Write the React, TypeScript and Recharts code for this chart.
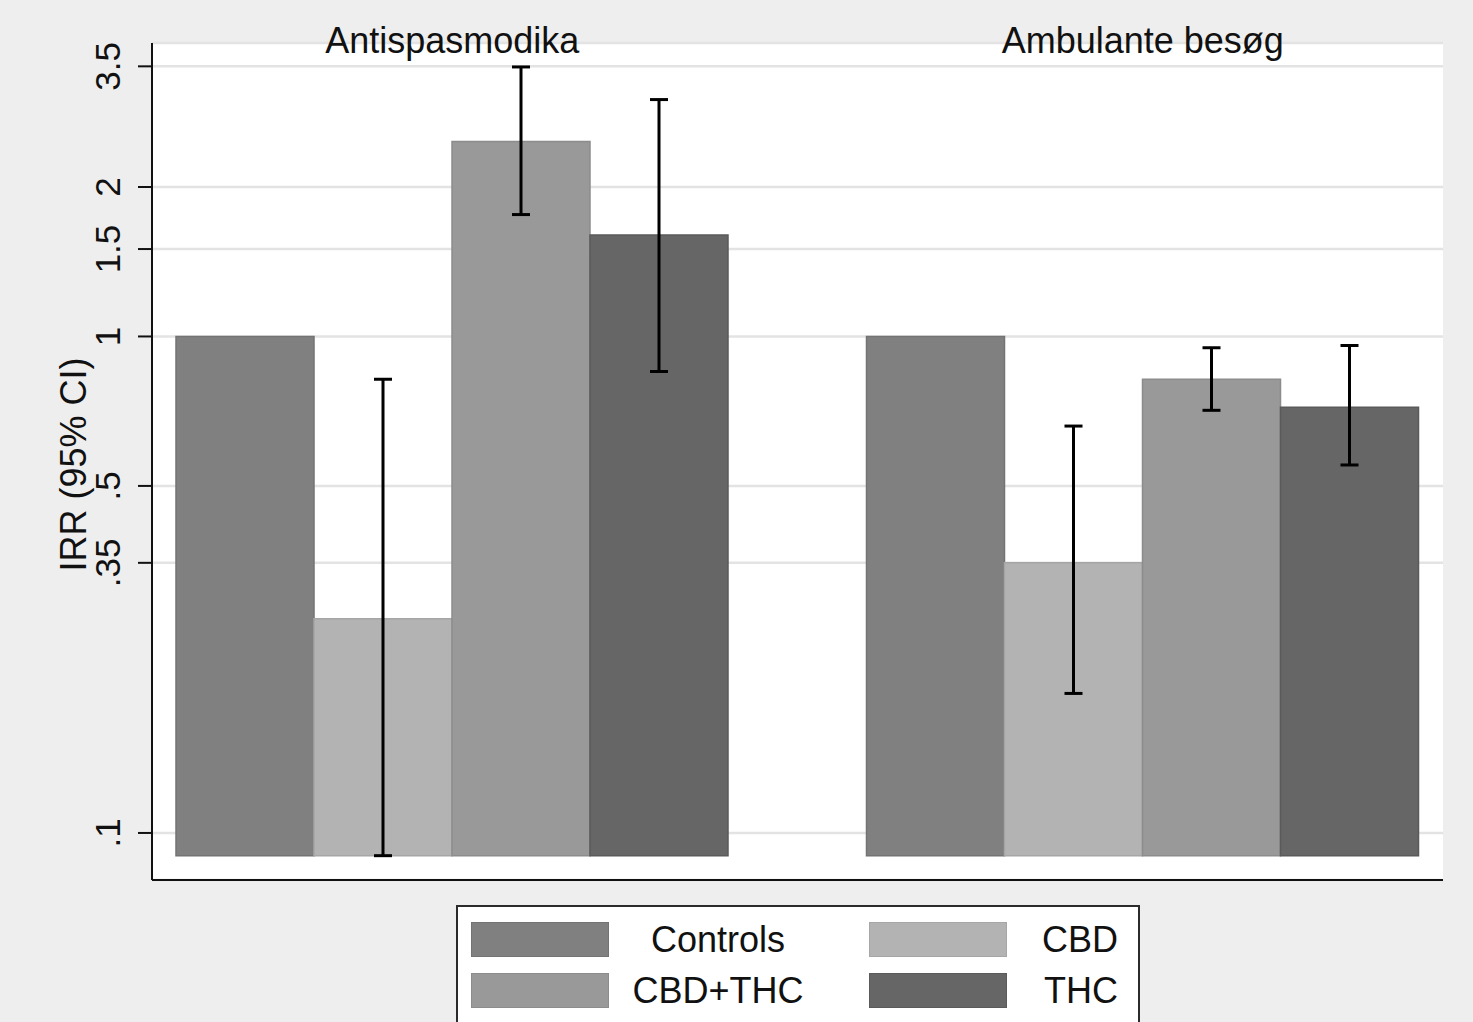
import { Bar, BarChart, CartesianGrid, ErrorBar, Legend, XAxis, YAxis } from 'recharts';

const outcomes = ['Antispasmodika', 'Ambulante besøg'];

// IRR per outcome (same order as outcomes)
const controlsIrr = [1, 1];
const cbdIrr = [0.27, 0.35];
const cbdThcIrr = [2.47, 0.82];
const thcIrr = [1.6, 0.72];

// 95% CI
const cbdLow = [0.09, 0.191];
const cbdHigh = [0.82, 0.66];
const cbdThcLow = [1.76, 0.71];
const cbdThcHigh = [3.49, 0.949];
const thcLow = [0.85, 0.551];
const thcHigh = [3.0, 0.959];

const yTicks = [0.1, 0.35, 0.5, 1, 1.5, 2, 3.5];
const yDomain = [0.0804, 3.9];
const barBase = 0.09;

const FONT = '"Liberation Sans", Arial, sans-serif';
const INK = '#111111';

const series = [
  { key: 'controls', name: 'Controls', irr: controlsIrr, low: null, high: null, fill: '#808080', edge: '#737373' },
  { key: 'cbd', name: 'CBD', irr: cbdIrr, low: cbdLow, high: cbdHigh, fill: '#b3b3b3', edge: '#a6a6a6' },
  { key: 'cbdThc', name: 'CBD+THC', irr: cbdThcIrr, low: cbdThcLow, high: cbdThcHigh, fill: '#999999', edge: '#8c8c8c' },
  { key: 'thc', name: 'THC', irr: thcIrr, low: thcLow, high: thcHigh, fill: '#666666', edge: '#5a5a5a' },
];

const data = outcomes.map((outcome, i) => {
  const row: Record<string, any> = { outcome };
  series.forEach((s) => {
    row[s.key] = s.irr[i];
    if (s.low && s.high) row[s.key + 'Err'] = [s.irr[i] - s.low[i], s.high[i] - s.irr[i]];
  });
  return row;
});

const fmtTick = (v: number) => (v < 1 ? String(v).replace(/^0/, '') : String(v));

function YTick({ x, y, payload }: any) {
  return (
    <text
      x={x}
      y={y}
      transform={`rotate(-90, ${x}, ${y})`}
      textAnchor="middle"
      fontSize={35}
      fontFamily={FONT}
      fill={INK}
    >
      {fmtTick(payload.value)}
    </text>
  );
}

function TopTick({ x, y, payload }: any) {
  return (
    <text x={x} y={y} dy={10} textAnchor="middle" fontSize={36} fontFamily={FONT} fill={INK}>
      {payload.value}
    </text>
  );
}

function YLabel({ viewBox }: any) {
  const cx = viewBox.x + 86;
  const cy = viewBox.y + viewBox.height / 2 + 3;
  return (
    <text
      x={cx}
      y={cy}
      transform={`rotate(-90, ${cx}, ${cy})`}
      textAnchor="middle"
      fontSize={36}
      fontFamily={FONT}
      fill={INK}
    >
      IRR (95% CI)
    </text>
  );
}

// 2x2 legend box, keeps the bar order (recharts sorts the payload by name)
function LegendBox({ payload }: any) {
  const items = series.map((s) => {
    const p = (payload ?? []).find((e: any) => e.value === s.name);
    return { name: s.name, fill: p?.color ?? s.fill, edge: s.edge };
  });
  return (
    <div style={{ paddingTop: 24 }}>
      <div
        style={{
          marginLeft: 456,
          width: 684,
          height: 140,
          boxSizing: 'border-box',
          border: '2px solid #2b2b2b',
          background: '#fff',
          padding: '15px 0 0 13px',
          display: 'grid',
          gridTemplateColumns: '138px 260px 138px 111px',
          gridAutoRows: '35px',
          rowGap: 16,
          alignItems: 'center',
          fontFamily: FONT,
          fontSize: 36,
          color: INK,
        }}
      >
        {items.map((it, i) => [
          <div
            key={`s${i}`}
            style={{ height: 35, background: it.fill, boxSizing: 'border-box', border: `1px solid ${it.edge}` }}
          />,
          <div
            key={`t${i}`}
            style={{
              textAlign: i % 2 === 0 ? 'center' : 'right',
              paddingRight: i % 2 === 0 ? 42 : 0,
              lineHeight: '35px',
              whiteSpace: 'nowrap',
            }}
          >
            {it.name}
          </div>,
        ])}
      </div>
    </div>
  );
}

export default function App() {
  return (
    <div
      style={{
        position: 'absolute',
        left: 0,
        top: 0,
        width: 1473,
        height: 1022,
        overflow: 'hidden',
        background: '#eeeeee',
      }}
    >
      <BarChart
        width={1473}
        height={1045}
        data={data}
        margin={{ top: 42, right: 30, bottom: 0, left: 0 }}
        barGap={0}
        barCategoryGap={69}
      >
        <CartesianGrid xAxisId="top" vertical={false} stroke="#e3e3e3" strokeWidth={2.5} fill="#ffffff" />
        <XAxis
          xAxisId="top"
          orientation="top"
          dataKey="outcome"
          height={1}
          padding={{ left: -45, right: -45 }}
          axisLine={false}
          tickLine={false}
          tickSize={0}
          tickMargin={0}
          tick={<TopTick />}
          interval={0}
        />
        <XAxis
          xAxisId="bottom"
          orientation="bottom"
          dataKey="outcome"
          height={1}
          tick={false}
          tickLine={false}
          axisLine={{ stroke: INK, strokeWidth: 2 }}
        />
        <YAxis
          type="number"
          scale="log"
          domain={yDomain}
          allowDataOverflow
          ticks={yTicks}
          width={152}
          tickSize={14}
          tickMargin={18}
          tick={<YTick />}
          tickLine={{ stroke: INK, strokeWidth: 2 }}
          axisLine={{ stroke: INK, strokeWidth: 2 }}
          label={<YLabel />}
        />
        <Legend verticalAlign="bottom" content={<LegendBox />} />
        {series.map((s) => (
          <Bar
            key={s.key}
            xAxisId="top"
            name={s.name}
            dataKey={(d: any) => [barBase, d[s.key]]}
            fill={s.fill}
            stroke={s.edge}
            strokeWidth={1.5}
            isAnimationActive={false}
          >
            {s.low && (
              <ErrorBar
                dataKey={(p: any) => (p?.payload ?? p)[s.key + 'Err']}
                direction="y"
                width={9}
                stroke="#000"
                strokeWidth={3}
                isAnimationActive={false}
              />
            )}
          </Bar>
        ))}
      </BarChart>
    </div>
  );
}
